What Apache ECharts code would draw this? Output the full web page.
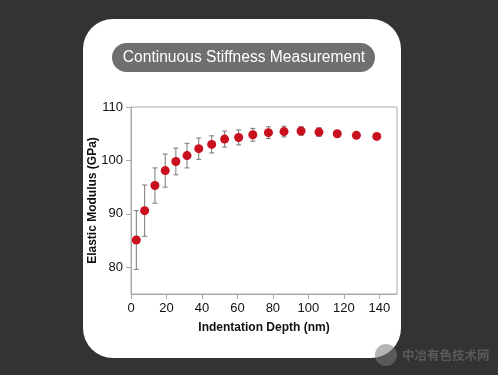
<!DOCTYPE html>
<html>
<head>
    <meta charset="UTF-8">
    <title>Continuous Stiffness Measurement</title>
    <script src="https://cdn.jsdelivr.net/npm/echarts@6/dist/echarts.min.js"></script>
    <style>
        html, body { margin: 0; padding: 0; background: #333; }
        #container { width: 498px; height: 375px; }
    </style>
</head>
<body>
<div id="container"></div>
<script>
    var depth   = [3, 7.7, 13.5, 19.3, 25.3, 31.6, 38.2, 45.5, 52.8, 60.7, 68.7, 77.5, 86.3, 95.9, 106, 116.3, 127.1, 138.6];
    var modulus = [85.1, 90.6, 95.3, 98.1, 99.8, 100.9, 102.2, 103.0, 104.0, 104.3, 104.8, 105.2, 105.4, 105.5, 105.3, 105.0, 104.7, 104.5];
    var errBar  = [5.5, 4.8, 3.3, 3.1, 2.5, 2.3, 2.0, 1.6, 1.5, 1.4, 1.2, 1.1, 1.0, 0.8, 0.8, 0.3, 0.3, 0.3];
    var xTicks  = [0, 20, 40, 60, 80, 100, 120, 140];
    var yTicks  = [80, 90, 100, 110];

    var points = depth.map(function (d, i) { return [d, modulus[i]]; });
    var bars = depth.map(function (d, i) { return [d, modulus[i] - errBar[i], modulus[i] + errBar[i]]; });

    var myChart = echarts.init(document.getElementById('container'));
    myChart.setOption({
        backgroundColor: '#333333',
        textStyle: { fontFamily: 'Liberation Sans, Arial, sans-serif' },
        graphic: [
            { type: 'rect', z: -100, shape: { x: 83, y: 19, width: 318, height: 339, r: 30 }, style: { fill: '#ffffff' } },
            { type: 'rect', z: -90, shape: { x: 112, y: 43, width: 263, height: 29, r: 14.5 }, style: { fill: '#6f6f6f' } },
            { type: 'text', z: -80, x: 244, y: 58, style: { text: 'Continuous Stiffness Measurement', fill: '#ffffff', font: '15.6px Liberation Sans', align: 'center', verticalAlign: 'middle' } },
            { type: 'circle', z: -80, shape: { cx: 386, cy: 355, r: 11 }, style: { fill: 'rgba(120,120,120,0.55)' } },
            { type: 'text', z: -80, x: 402, y: 355, style: { text: '中冶有色技术网', fill: '#5a5a5a', font: 'bold 12.5px Noto Sans CJK SC', verticalAlign: 'middle' } }
        ],
        grid: {
            left: 131, right: 101, top: 107, bottom: 81,
            show: true, borderColor: '#aaaaaa', borderWidth: 1, backgroundColor: 'transparent'
        },
        xAxis: {
            type: 'value', min: 0, max: 150,
            name: 'Indentation Depth (nm)', nameLocation: 'middle', nameGap: 28,
            nameMoveOverlap: false,
            nameTextStyle: { fontWeight: 'bold', fontSize: 12, color: '#111' },
            axisLine: { lineStyle: { color: '#aaaaaa' } },
            axisTick: { customValues: xTicks, length: 5, lineStyle: { color: '#aaaaaa' } },
            axisLabel: { customValues: xTicks, fontSize: 13, color: '#111', margin: 8 },
            splitLine: { show: false }
        },
        yAxis: {
            type: 'value', min: 75, max: 110,
            name: 'Elastic Modulus (GPa)', nameLocation: 'middle', nameGap: 32,
            nameMoveOverlap: false,
            nameTextStyle: { fontWeight: 'bold', fontSize: 12, color: '#111' },
            axisLine: { show: true, lineStyle: { color: '#aaaaaa' } },
            axisTick: { show: true, customValues: yTicks, length: 5, lineStyle: { color: '#aaaaaa' } },
            axisLabel: { customValues: yTicks, fontSize: 13, color: '#111', margin: 8 },
            splitLine: { show: false }
        },
        series: [{
            type: 'custom',
            data: bars,
            z: 2,
            renderItem: function (params, api) {
                var x = api.value(0);
                var lo = api.coord([x, api.value(1)]);
                var hi = api.coord([x, api.value(2)]);
                var c = 2.5;
                var ls = { stroke: '#777777', lineWidth: 1 };
                return {
                    type: 'group',
                    children: [
                        { type: 'line', shape: { x1: lo[0], y1: lo[1], x2: hi[0], y2: hi[1] }, style: ls },
                        { type: 'line', shape: { x1: lo[0] - c, y1: lo[1], x2: lo[0] + c, y2: lo[1] }, style: ls },
                        { type: 'line', shape: { x1: hi[0] - c, y1: hi[1], x2: hi[0] + c, y2: hi[1] }, style: ls }
                    ]
                };
            }
        }, {
            type: 'scatter',
            data: points,
            z: 3,
            symbol: 'circle',
            symbolSize: 9,
            itemStyle: { color: '#c8101f', opacity: 1 }
        }]
    });
</script>
</body>
</html>
